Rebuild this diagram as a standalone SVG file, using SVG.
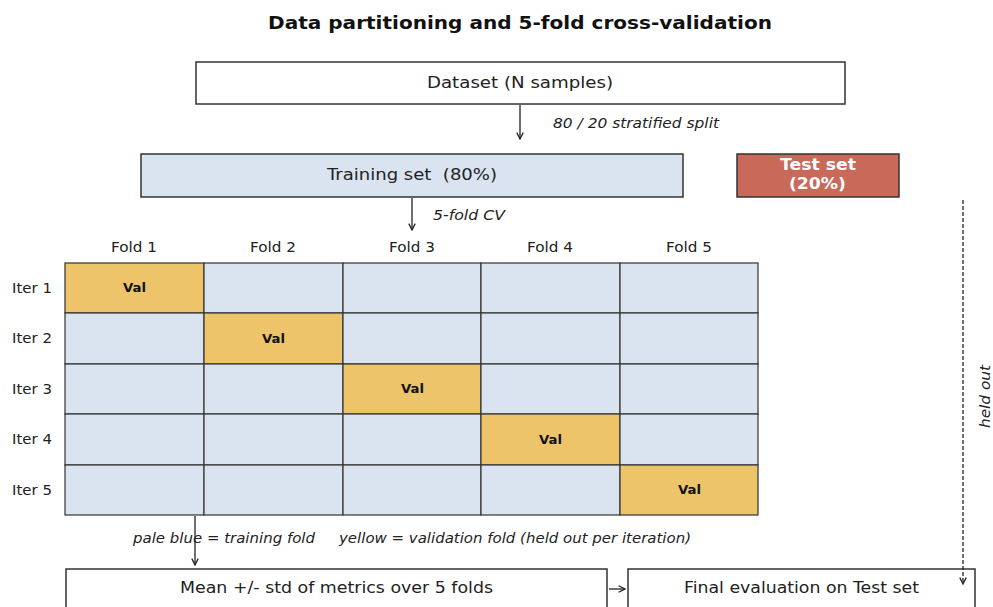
<svg xmlns="http://www.w3.org/2000/svg" width="993" height="607" viewBox="0 0 993 607">
  <defs>
    <marker id="arrow" viewBox="0 0 10 10" refX="9" refY="5" markerWidth="8" markerHeight="8" markerUnits="userSpaceOnUse" orient="auto">
      <path d="M1,1 L9,5 L1,9" fill="none" stroke="#222" stroke-width="1.6"/>
    </marker>
  </defs>
  <style>
    text { font-family: "DejaVu Sans", "Liberation Sans", sans-serif; fill: #222; }
    .title { font-size: 18px; font-weight: bold; fill: #111; }
    .box { fill: #ffffff; stroke: #333; stroke-width: 1.5; }
    .train { fill: #dae4f0; stroke: #333; stroke-width: 1.5; }
    .test { fill: #c8695a; stroke: #333; stroke-width: 1.5; }
    .cell { fill: #dae4f0; stroke: #333; stroke-width: 1.2; }
    .val { fill: #eec46b; stroke: #333; stroke-width: 1.2; }
    .lbl { font-size: 16px; }
    .small { font-size: 14px; }
    .note { font-size: 14px; font-style: italic; }
    .valtxt { font-size: 12px; font-weight: bold; fill: #111; }
    .wtxt { font-size: 15px; font-weight: bold; fill: #ffffff; }
    .conn { stroke: #222; stroke-width: 1.3; fill: none; }
  </style>
  <rect width="993" height="607" fill="#ffffff"/>

  <text class="title" x="268" y="29" textLength="504" lengthAdjust="spacingAndGlyphs">Data partitioning and 5-fold cross-validation</text>

  <g id="dataset">
    <rect class="box" x="196" y="62" width="649" height="42"/>
    <text class="lbl" x="427" y="88" textLength="186" lengthAdjust="spacingAndGlyphs">Dataset (N samples)</text>
  </g>

  <g id="training">
    <rect class="train" x="141" y="154" width="542" height="43"/>
    <text class="lbl" x="327" y="180" textLength="170" lengthAdjust="spacingAndGlyphs" xml:space="preserve">Training set  (80%)</text>
  </g>

  <g id="test">
    <rect class="test" x="737" y="154" width="162" height="43"/>
    <text class="wtxt" x="780" y="170" textLength="76" lengthAdjust="spacingAndGlyphs">Test set</text>
    <text class="wtxt" x="789" y="189" textLength="57" lengthAdjust="spacingAndGlyphs">(20%)</text>
  </g>

  <g id="cv-grid">
    <g id="fold-labels">
      <text class="small" x="111" y="252" textLength="46" lengthAdjust="spacingAndGlyphs">Fold 1</text>
      <text class="small" x="250" y="252" textLength="46" lengthAdjust="spacingAndGlyphs">Fold 2</text>
      <text class="small" x="389" y="252" textLength="46" lengthAdjust="spacingAndGlyphs">Fold 3</text>
      <text class="small" x="527" y="252" textLength="46" lengthAdjust="spacingAndGlyphs">Fold 4</text>
      <text class="small" x="666" y="252" textLength="46" lengthAdjust="spacingAndGlyphs">Fold 5</text>
    </g>
    <g id="iter-labels">
      <text class="small" x="12" y="293" textLength="40" lengthAdjust="spacingAndGlyphs">Iter 1</text>
      <text class="small" x="12" y="343" textLength="40" lengthAdjust="spacingAndGlyphs">Iter 2</text>
      <text class="small" x="12" y="394" textLength="40" lengthAdjust="spacingAndGlyphs">Iter 3</text>
      <text class="small" x="12" y="444" textLength="40" lengthAdjust="spacingAndGlyphs">Iter 4</text>
      <text class="small" x="12" y="495" textLength="40" lengthAdjust="spacingAndGlyphs">Iter 5</text>
    </g>
    <!-- row 1 -->
    <rect class="val" x="65" y="263" width="139" height="50"/>
    <rect class="cell" x="204" y="263" width="139" height="50"/>
    <rect class="cell" x="343" y="263" width="138" height="50"/>
    <rect class="cell" x="481" y="263" width="139" height="50"/>
    <rect class="cell" x="620" y="263" width="138" height="50"/>
    <!-- row 2 -->
    <rect class="cell" x="65" y="313" width="139" height="51"/>
    <rect class="val" x="204" y="313" width="139" height="51"/>
    <rect class="cell" x="343" y="313" width="138" height="51"/>
    <rect class="cell" x="481" y="313" width="139" height="51"/>
    <rect class="cell" x="620" y="313" width="138" height="51"/>
    <!-- row 3 -->
    <rect class="cell" x="65" y="364" width="139" height="50"/>
    <rect class="cell" x="204" y="364" width="139" height="50"/>
    <rect class="val" x="343" y="364" width="138" height="50"/>
    <rect class="cell" x="481" y="364" width="139" height="50"/>
    <rect class="cell" x="620" y="364" width="138" height="50"/>
    <!-- row 4 -->
    <rect class="cell" x="65" y="414" width="139" height="51"/>
    <rect class="cell" x="204" y="414" width="139" height="51"/>
    <rect class="cell" x="343" y="414" width="138" height="51"/>
    <rect class="val" x="481" y="414" width="139" height="51"/>
    <rect class="cell" x="620" y="414" width="138" height="51"/>
    <!-- row 5 -->
    <rect class="cell" x="65" y="465" width="139" height="50"/>
    <rect class="cell" x="204" y="465" width="139" height="50"/>
    <rect class="cell" x="343" y="465" width="138" height="50"/>
    <rect class="cell" x="481" y="465" width="139" height="50"/>
    <rect class="val" x="620" y="465" width="138" height="50"/>
    <text class="valtxt" x="123" y="292" textLength="23" lengthAdjust="spacingAndGlyphs">Val</text>
    <text class="valtxt" x="262" y="343" textLength="23" lengthAdjust="spacingAndGlyphs">Val</text>
    <text class="valtxt" x="401" y="393" textLength="23" lengthAdjust="spacingAndGlyphs">Val</text>
    <text class="valtxt" x="539" y="444" textLength="23" lengthAdjust="spacingAndGlyphs">Val</text>
    <text class="valtxt" x="678" y="494" textLength="23" lengthAdjust="spacingAndGlyphs">Val</text>
  </g>

  <g id="legend">
    <text class="note" x="133" y="543" textLength="182" lengthAdjust="spacingAndGlyphs">pale blue = training fold</text>
    <text class="note" x="339" y="543" textLength="352" lengthAdjust="spacingAndGlyphs">yellow = validation fold (held out per iteration)</text>
  </g>

  <g id="mean">
    <rect class="box" x="66" y="569" width="541" height="42"/>
    <text class="lbl" x="180" y="593" textLength="313" lengthAdjust="spacingAndGlyphs">Mean +/- std of metrics over 5 folds</text>
  </g>

  <g id="final">
    <rect class="box" x="628" y="569" width="347" height="42"/>
    <text class="lbl" x="684" y="593" textLength="235" lengthAdjust="spacingAndGlyphs">Final evaluation on Test set</text>
  </g>

  <g id="connectors">
    <line class="conn" x1="520" y1="105" x2="520" y2="139" marker-end="url(#arrow)"/>
    <text class="note" x="553" y="128" textLength="166" lengthAdjust="spacingAndGlyphs">80 / 20 stratified split</text>
    <line class="conn" x1="412" y1="198" x2="412" y2="230" marker-end="url(#arrow)"/>
    <text class="note" x="433" y="220" textLength="72" lengthAdjust="spacingAndGlyphs">5-fold CV</text>
    <line class="conn" x1="195" y1="516" x2="195" y2="565" marker-end="url(#arrow)"/>
    <line class="conn" x1="609" y1="589" x2="625" y2="589" marker-end="url(#arrow)"/>
    <line class="conn" x1="963" y1="200" x2="963" y2="584" stroke-dasharray="4,2" marker-end="url(#arrow)"/>
    <text class="note" transform="translate(990,428) rotate(-90)" textLength="63" lengthAdjust="spacingAndGlyphs">held out</text>
  </g>
</svg>
